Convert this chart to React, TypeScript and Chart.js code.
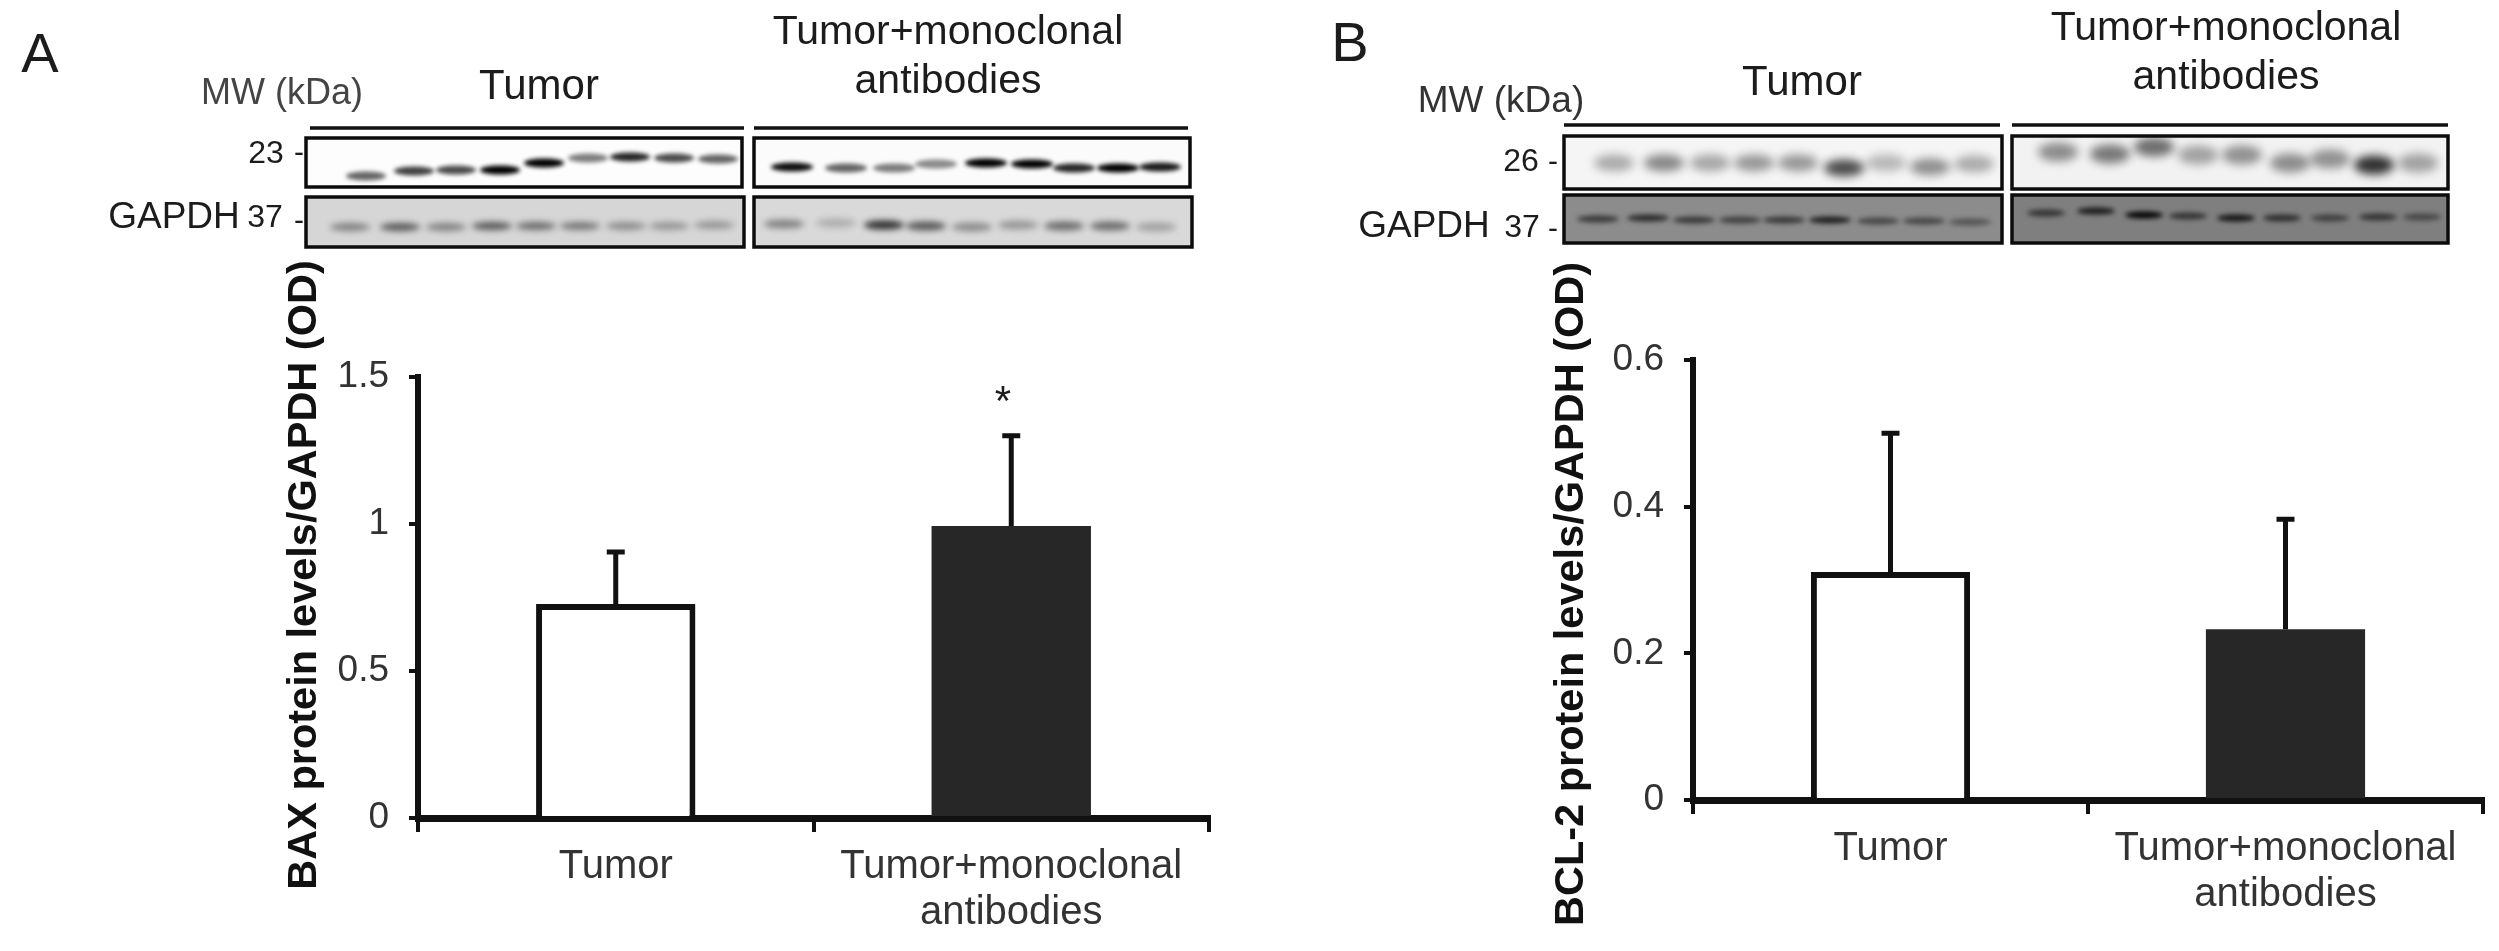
import React, { useEffect, useRef } from "react";
import { Chart, registerables } from "chart.js";

Chart.register(...registerables);

// ---------- chart data ----------
const categories = ["Tumor", ["Tumor+monoclonal", "antibodies"]];
const baxMeans = [0.728, 0.993];
const baxErrorTops = [0.905, 1.3];
const bcl2Means = [0.311, 0.233];
const bcl2ErrorTops = [0.5, 0.383];
const baxAxisTicks = [0, 0.5, 1, 1.5];
const bcl2AxisTicks = [0, 0.2, 0.4, 0.6];
const baxTitle = "BAX protein levels/GAPDH (OD)";
const bcl2Title = "BCL-2 protein levels/GAPDH (OD)";

// ---------- blot band strength, lane by lane ----------
const baxTumorBands = [0.6, 0.75, 0.7, 1, 1, 0.5, 0.85, 0.7, 0.6];
const baxAntibodyBands = [0.95, 0.6, 0.5, 0.45, 1, 1, 0.85, 1, 0.9];
const baxGapdhTumor = [0.4, 0.6, 0.4, 0.6, 0.5, 0.45, 0.35, 0.3, 0.3];
const baxGapdhAntibody = [0.4, 0.2, 0.8, 0.6, 0.35, 0.3, 0.5, 0.5, 0.25];
const bclTumorBands = [0.3, 0.45, 0.32, 0.38, 0.38, 0.7, 0.25, 0.42, 0.3];
const bclAntibodyBands = [0.42, 0.5, 0.55, 0.33, 0.4, 0.42, 0.4, 0.8, 0.33];
const bclGapdhTumor = [0.6, 0.7, 0.6, 0.55, 0.6, 0.8, 0.5, 0.5, 0.4];
const bclGapdhAntibody = [0.6, 0.8, 1, 0.6, 0.85, 0.65, 0.5, 0.6, 0.45];

const FONT = '"Liberation Sans", Arial, sans-serif';

type Blot = { box: number[]; fill: string; xs: number[]; ys: number[]; h: number; w: number; blur: number; bands: number[] };
type Label = { t: string; x: number; y: number; size: number; color?: string };

const panelA = {
  offset: 0, width: 1250,
  padding: { left: 300, top: 377, right: 41, bottom: 13 },
  axisWidth: 118,
  means: baxMeans, errors: baxErrorTops, ticks: baxAxisTicks,
  title: baxTitle, titleX: 305, titleY: 575,
  rules: [[310, 744, 128], [754, 1188, 128]],
  labels: [
    { t: "A", x: 40, y: 57, size: 56 },
    { t: "MW (kDa)", x: 282, y: 94, size: 36, color: "#444" },
    { t: "Tumor", x: 539, y: 87, size: 42 },
    { t: "Tumor+monoclonal", x: 948, y: 33, size: 41 },
    { t: "antibodies", x: 948, y: 82, size: 41 },
    { t: "23", x: 266, y: 154, size: 32 },
    { t: "-", x: 299, y: 154, size: 30 },
    { t: "GAPDH", x: 174, y: 218, size: 37 },
    { t: "37", x: 265, y: 218, size: 32 },
    { t: "-", x: 299, y: 222, size: 30 },
    { t: "*", x: 1003, y: 403, size: 42 },
  ] as Label[],
  blots: [
    { box: [306, 138, 742, 187], fill: "#fdfdfd", w: 40, h: 9, blur: 2, bands: baxTumorBands,
      xs: [366, 414, 456, 500, 544, 588, 630, 674, 718], ys: [176, 171, 170, 170, 163, 158, 157, 158, 159] },
    { box: [754, 138, 1190, 187], fill: "#fbfbfb", w: 42, h: 9, blur: 2, bands: baxAntibodyBands,
      xs: [792, 846, 894, 936, 986, 1032, 1074, 1118, 1160], ys: [167, 168, 168, 164, 163, 164, 168, 168, 167] },
    { box: [306, 197, 744, 247], fill: "#d6d6d6", w: 40, h: 8, blur: 3, bands: baxGapdhTumor,
      xs: [350, 400, 446, 492, 536, 580, 626, 669, 714], ys: [227, 227, 227, 226, 226, 226, 226, 226, 225] },
    { box: [754, 197, 1192, 247], fill: "#d9d9d9", w: 40, h: 9, blur: 3, bands: baxGapdhAntibody,
      xs: [784, 836, 884, 926, 972, 1018, 1064, 1110, 1156], ys: [224, 223, 225, 226, 227, 225, 226, 226, 227] },
  ] as Blot[],
};

const panelB = {
  offset: 1250, width: 1249,
  padding: { left: 343, top: 360, right: 16, bottom: 31 },
  axisWidth: 100,
  means: bcl2Means, errors: bcl2ErrorTops, ticks: bcl2AxisTicks,
  title: bcl2Title, titleX: 1572, titleY: 594,
  rules: [[1564, 2000, 125], [2012, 2448, 125]],
  labels: [
    { t: "B", x: 1350, y: 46, size: 56 },
    { t: "MW (kDa)", x: 1501, y: 102, size: 37, color: "#333" },
    { t: "Tumor", x: 1802, y: 83, size: 42 },
    { t: "Tumor+monoclonal", x: 2226, y: 29, size: 41 },
    { t: "antibodies", x: 2226, y: 78, size: 41 },
    { t: "26", x: 1521, y: 162, size: 32 },
    { t: "-", x: 1553, y: 163, size: 30 },
    { t: "GAPDH", x: 1424, y: 227, size: 37 },
    { t: "37", x: 1522, y: 228, size: 32 },
    { t: "-", x: 1553, y: 230, size: 30 },
  ] as Label[],
  blots: [
    { box: [1564, 136, 2002, 189], fill: "#f5f5f5", w: 40, h: 17, blur: 5, bands: bclTumorBands,
      xs: [1614, 1664, 1710, 1754, 1798, 1844, 1886, 1930, 1974], ys: [163, 163, 163, 163, 163, 168, 163, 167, 164] },
    { box: [2012, 136, 2448, 189], fill: "#f2f2f2", w: 40, h: 19, blur: 5, bands: bclAntibodyBands,
      xs: [2058, 2110, 2154, 2198, 2242, 2290, 2330, 2374, 2418], ys: [152, 154, 147, 155, 155, 163, 159, 165, 163] },
    { box: [1564, 195, 2002, 243], fill: "#8c8c8c", w: 42, h: 7, blur: 2.5, bands: bclGapdhTumor,
      xs: [1598, 1648, 1694, 1740, 1784, 1830, 1878, 1924, 1970], ys: [219, 218, 220, 220, 220, 220, 221, 221, 222] },
    { box: [2012, 195, 2448, 243], fill: "#7f7f7f", w: 38, h: 7, blur: 2.5, bands: bclGapdhAntibody,
      xs: [2046, 2096, 2144, 2188, 2236, 2282, 2330, 2378, 2422], ys: [213, 211, 215, 216, 218, 218, 218, 217, 217] },
  ] as Blot[],
};

type Panel = typeof panelA;

function drawBlot(ctx: CanvasRenderingContext2D, b: Blot) {
  const [x0, y0, x1, y1] = b.box;
  ctx.save();
  ctx.beginPath();
  ctx.rect(x0, y0, x1 - x0, y1 - y0);
  ctx.clip();
  ctx.fillStyle = b.fill;
  ctx.fillRect(x0, y0, x1 - x0, y1 - y0);
  ctx.filter = `blur(${b.blur}px)`;
  b.xs.forEach((x, i) => {
    ctx.fillStyle = `rgba(0,0,0,${b.bands[i]})`;
    ctx.beginPath();
    ctx.ellipse(x, b.ys[i], b.w / 2, b.h / 2, 0, 0, Math.PI * 2);
    ctx.fill();
  });
  ctx.restore();
  ctx.strokeStyle = "#0c0c0c";
  ctx.lineWidth = 3.5;
  ctx.strokeRect(x0, y0, x1 - x0, y1 - y0);
}

function panelPlugin(p: Panel) {
  return {
    id: "panelExtras",
    beforeDraw(chart: any) {
      const ctx = chart.ctx as CanvasRenderingContext2D;
      ctx.save();
      ctx.fillStyle = "#fff";
      ctx.fillRect(0, 0, chart.width, chart.height);
      ctx.translate(-p.offset, 0);
      p.blots.forEach((b) => drawBlot(ctx, b));
      ctx.strokeStyle = "#111";
      ctx.lineWidth = 3.5;
      p.rules.forEach(([a, b, y]) => {
        ctx.beginPath();
        ctx.moveTo(a, y);
        ctx.lineTo(b, y);
        ctx.stroke();
      });
      ctx.textAlign = "center";
      ctx.textBaseline = "middle";
      p.labels.forEach((l) => {
        ctx.font = `${l.size}px ${FONT}`;
        ctx.fillStyle = l.color || "#1c1c1c";
        ctx.fillText(l.t, l.x, l.y);
      });
      ctx.save();
      ctx.translate(p.titleX, p.titleY);
      ctx.rotate(-Math.PI / 2);
      ctx.font = `bold 41.5px ${FONT}`;
      ctx.fillStyle = "#111";
      ctx.fillText(p.title, 0, 0);
      ctx.restore();
      ctx.restore();
    },
    afterDatasetsDraw(chart: any) {
      const ctx = chart.ctx as CanvasRenderingContext2D;
      const y = chart.scales.y;
      const bars = chart.getDatasetMeta(0).data;
      ctx.save();
      ctx.strokeStyle = "#111";
      ctx.lineWidth = 5;
      p.errors.forEach((top, i) => {
        const px = bars[i].x;
        const yTop = y.getPixelForValue(top);
        const yBase = y.getPixelForValue(p.means[i]);
        ctx.beginPath();
        ctx.moveTo(px, yBase);
        ctx.lineTo(px, yTop);
        ctx.moveTo(px - 9, yTop);
        ctx.lineTo(px + 9, yTop);
        ctx.stroke();
      });
      ctx.restore();
    },
  };
}

function BarPanel({ panel }: { panel: Panel }) {
  const ref = useRef<HTMLCanvasElement>(null);
  useEffect(() => {
    const chart = new Chart(ref.current as HTMLCanvasElement, {
      type: "bar",
      data: {
        labels: categories as any,
        datasets: [
          {
            data: panel.means,
            backgroundColor: ["#ffffff", "#272727"],
            borderColor: ["#111111", "#272727"],
            borderWidth: [6, 0],
            barPercentage: 0.403,
            categoryPercentage: 1,
          },
        ],
      },
      options: {
        animation: false,
        responsive: false,
        devicePixelRatio: 1,
        layout: { padding: panel.padding },
        plugins: { legend: { display: false }, tooltip: { enabled: false } },
        scales: {
          x: {
            afterFit: (a: any) => { a.height = 120; },
            border: { color: "#111", width: 7 },
            grid: { drawOnChartArea: false, color: "#111", lineWidth: 4, tickLength: 14, offset: true },
            ticks: {
              color: "#333",
              font: { family: FONT, size: 40, lineHeight: 1.15 },
              padding: 12,
              maxRotation: 0,
              autoSkip: false,
            },
          },
          y: {
            min: panel.ticks[0],
            max: panel.ticks[panel.ticks.length - 1],
            afterFit: (a: any) => { a.width = panel.axisWidth; },
            afterBuildTicks: (a: any) => { a.ticks = panel.ticks.map((value: number) => ({ value })); },
            border: { color: "#111", width: 6 },
            grid: { drawOnChartArea: false, color: "#111", lineWidth: 4, tickLength: 9 },
            ticks: {
              color: "#333",
              font: { family: FONT, size: 37 },
              padding: 20,
              callback: (v: any) => String(+Number(v).toFixed(2)),
            },
          },
        },
      },
      plugins: [panelPlugin(panel)],
    } as any);
    return () => chart.destroy();
  }, [panel]);
  return (
    <canvas
      ref={ref}
      width={panel.width}
      height={951}
      style={{ position: "absolute", left: panel.offset, top: 0, width: panel.width, height: 951, filter: "blur(0.7px)" }}
    />
  );
}

export default function App() {
  return (
    <div style={{ position: "absolute", left: 0, top: 0, width: 2499, height: 951, background: "#fff", overflow: "hidden" }}>
      <BarPanel panel={panelA} />
      <BarPanel panel={panelB} />
    </div>
  );
}
